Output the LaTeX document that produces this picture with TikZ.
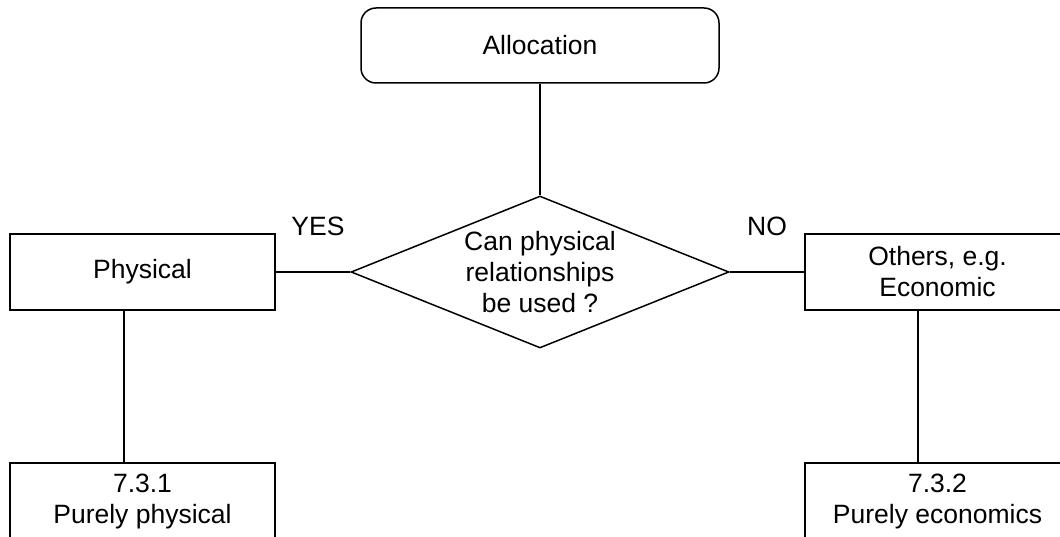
\documentclass[tikz,border=0pt]{standalone}
\usepackage{fontspec}
\setmainfont{Liberation Sans}
\usetikzlibrary{shapes.geometric}
\begin{document}
\begin{tikzpicture}[x=1pt,y=-1pt,line width=1.5pt,
  every node/.style={font=\fontsize{26.5}{31}\selectfont,align=center},
  box/.style={draw,minimum width=265pt,minimum height=76pt,inner sep=0pt},
  decision/.style={draw,diamond,aspect=2.47,inner sep=0pt,minimum width=378pt,minimum height=152pt}]
\useasboundingbox (0,0) rectangle (1060,537);
\clip (0,0) rectangle (1060,537);
%\draw[thin,dashed,step=50] (0,0) grid (1060,537);
\node[box,rounded corners=15pt,minimum width=358pt,minimum height=75pt] (alloc) at (540,45.5) {Allocation};
\node[decision] (question) at (540,272) {Can physical\\relationships\\be used ?};
\node[box] (physical) at (142.5,272) {Physical};
\node[box] (others) at (937.5,272) {Others, e.g.\\Economic};
\node[box] (purephys) at (142.5,501) {7.3.1\\Purely physical};
\node[box] (pureecon) at (937.5,501) {7.3.2\\Purely economics};
\node (yes) at (318,226) {YES};
\node (no) at (767,226) {NO};
\draw (alloc) -- (question.north);
\draw (question.west) -- (physical.east);
\draw (question.east) -- (others.west);
\draw ([xshift=-18.5pt]physical.south) -- ([xshift=-18.5pt]purephys.north);
\draw ([xshift=-19.5pt]others.south) -- ([xshift=-19.5pt]pureecon.north);
\end{tikzpicture}
\end{document}
